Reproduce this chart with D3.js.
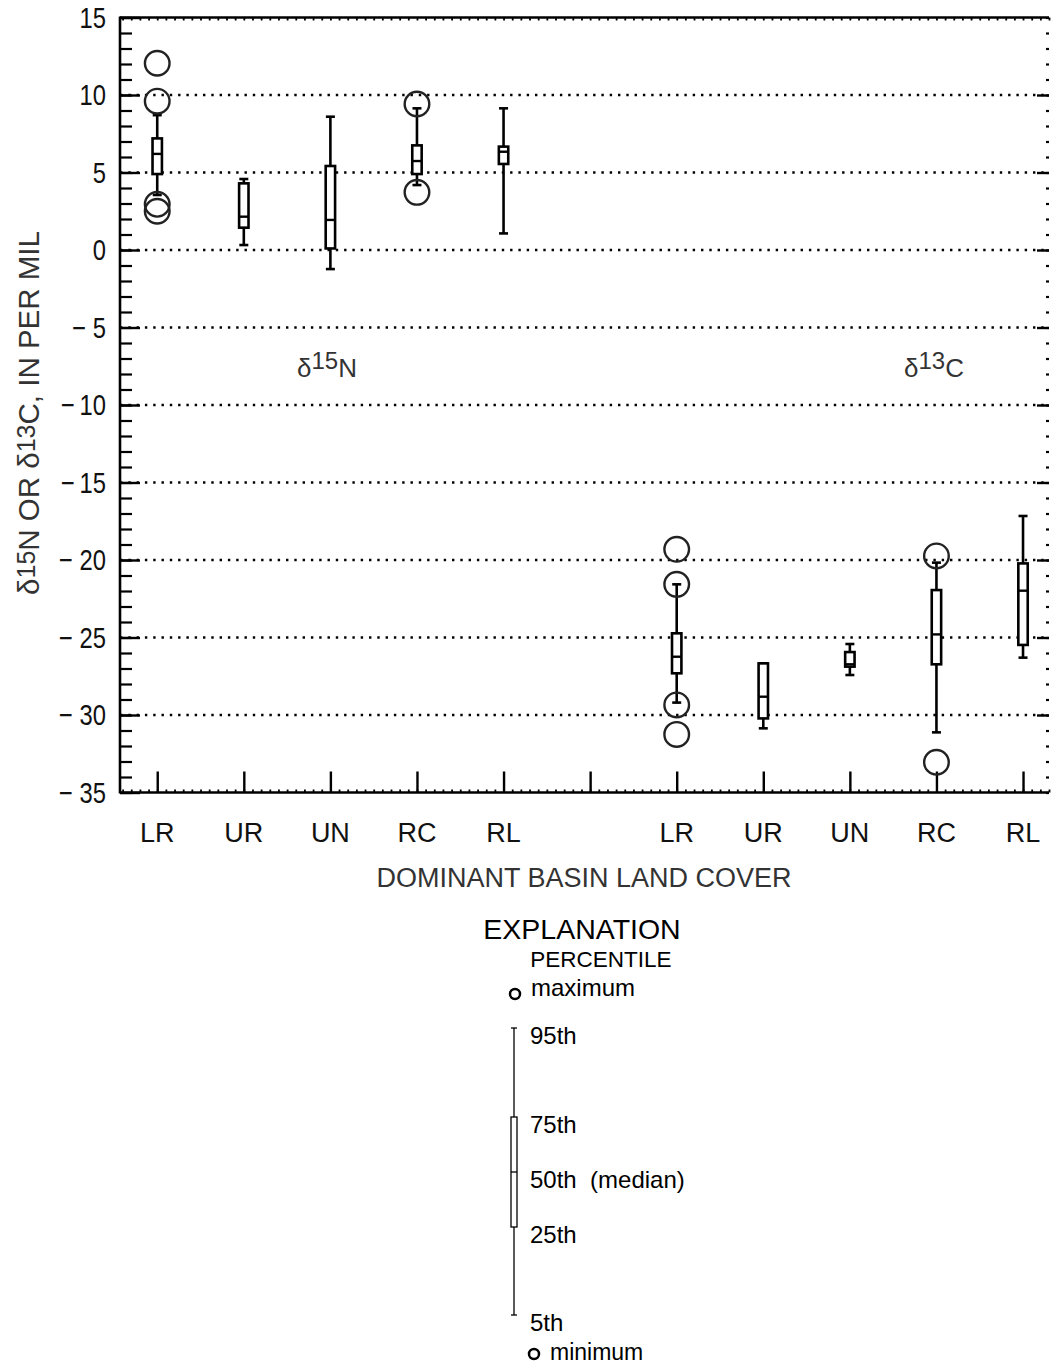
<!DOCTYPE html>
<html><head><meta charset="utf-8">
<script src="https://cdn.jsdelivr.net/npm/d3@7"></script>
<style>
body{margin:0;background:#fff;}
svg{display:block;font-family:"Liberation Sans",Arial,Helvetica,sans-serif;}
</style></head>
<body><svg id="c" width="1052" height="1365"></svg>
<script>
const categories = ["LR","UR","UN","RC","RL"];
const xTickLabels = ["LR","UR","UN","RC","RL","","LR","UR","UN","RC","RL"];
const yTickValues = [15,10,5,0,-5,-10,-15,-20,-25,-30,-35];
const yTickLabels = ["15","10","5","0","\u2212 5","\u2212\u200910","\u2212\u200915","\u2212 20","\u2212 25","\u2212 30","\u2212 35"];
const gridValues = [10,5,0,-5,-10,-15,-20,-25,-30];

// delta 15N (slots 0-4)
const n15P5  = [3.55, 0.32, -1.23, 4.19, 1.07];
const n15P25 = [4.9, 1.44, 0.1, 4.9, 5.55];
const n15P50 = [6.2, 2.15, 1.94, 5.74, 6.34];
const n15P75 = [7.2, 4.3, 5.42, 6.75, 6.67];
const n15P95 = [8.7, 4.58, 8.6, 9.14, 9.14];
const n15Outliers = [[12.05, 9.6, 2.95, 2.5], [], [], [9.42, 3.72], []];
// delta 13C (slots 6-10)
const c13P5  = [-29.2, -30.86, -27.42, -31.12, -26.3];
const c13P25 = [-27.31, -30.22, -26.88, -26.73, -25.48];
const c13P50 = [-26.24, -28.82, -26.73, -24.8, -21.98];
const c13P75 = [-24.73, -26.67, -25.94, -21.94, -20.22];
const c13P95 = [-21.57, -26.67, -25.42, -20.17, -17.16];
const c13Outliers = [[-19.31, -21.57, -29.35, -31.25], [], [], [-19.74, -33.05], []];

const n15Slots = [0,1,2,3,4];
const c13Slots = [6,7,8,9,10];

const svg = d3.select("#c");
const L = 120, R = 1049, T = 17.5, B = 792.5;
const x = d3.scaleLinear().domain([-0.43, 10.3]).range([L, R]);
const y = d3.scaleLinear().domain([-35, 15]).range([B, T]);

// gridlines
svg.append("g").selectAll("line").data(gridValues).join("line")
  .attr("x1", L).attr("x2", R).attr("y1", d=>y(d)).attr("y2", d=>y(d))
  .attr("stroke","#000").attr("stroke-width",2.4).attr("stroke-dasharray","2.4 5.9");

// axes
const minorY = d3.range(-35, 16, 1);
const minorX = d3.range(-0.4, 10.31, 0.1);
const gl = svg.append("g").attr("transform",`translate(${L},0)`)
  .call(d3.axisRight(y).tickValues(minorY).tickSize(12).tickFormat(""));
gl.select(".domain").remove();
gl.selectAll("line").attr("stroke","#000").attr("stroke-width",2.2);
const glM = svg.append("g").attr("transform",`translate(${L},0)`)
  .call(d3.axisRight(y).tickValues(yTickValues).tickSize(20).tickFormat(""));
glM.select(".domain").remove();
glM.selectAll("line").attr("stroke","#000").attr("stroke-width",2.4);
svg.append("line").attr("x1",L).attr("x2",L).attr("y1",T-1).attr("y2",B+1).attr("stroke","#000").attr("stroke-width",2.6);
// left labels (condensed)
svg.append("g").selectAll("text").data(yTickValues).join("text")
  .attr("text-anchor","end").attr("font-size",29).attr("fill","#111")
  .attr("transform", d=>`translate(106,${y(d)+10}) scale(0.82,1)`)
  .text((d,i)=>yTickLabels[i]);
// right axis ticks
const gr = svg.append("g").attr("transform",`translate(${R},0)`)
  .call(d3.axisLeft(y).tickValues(minorY).tickSize(3).tickFormat(""));
gr.select(".domain").remove();
gr.selectAll("line").attr("stroke","#000").attr("stroke-width",2.2);
const grM = svg.append("g").attr("transform",`translate(${R},0)`)
  .call(d3.axisLeft(y).tickValues(yTickValues.slice(1,-1)).tickSize(12).tickFormat(""));
grM.select(".domain").remove();
grM.selectAll("line").attr("stroke","#000").attr("stroke-width",2.4);
// top axis
const gt = svg.append("g").attr("transform",`translate(0,${T})`)
  .call(d3.axisBottom(x).tickValues(minorX).tickSize(3).tickFormat(""));
gt.select(".domain").remove();
gt.selectAll("line").attr("stroke","#000").attr("stroke-width",1.8);
svg.append("line").attr("x1",L).attr("x2",R).attr("y1",T).attr("y2",T).attr("stroke","#000").attr("stroke-width",2.6);
// bottom axis
const gb = svg.append("g").attr("transform",`translate(0,${B})`)
  .call(d3.axisTop(x).tickValues(minorX).tickSize(3).tickFormat(""));
gb.select(".domain").remove();
gb.selectAll("line").attr("stroke","#000").attr("stroke-width",1.8);
const gbM = svg.append("g").attr("transform",`translate(0,${B})`)
  .call(d3.axisTop(x).tickValues(d3.range(11)).tickSize(21).tickFormat(""));
gbM.select(".domain").remove();
gbM.selectAll("line").attr("stroke","#000").attr("stroke-width",2.4);
svg.append("line").attr("x1",L).attr("x2",R).attr("y1",B).attr("y2",B).attr("stroke","#000").attr("stroke-width",2.6);
// x labels
svg.append("g").selectAll("text").data(d3.range(11)).join("text")
  .attr("x", d=>x(d)).attr("y", 842).attr("text-anchor","middle")
  .attr("font-size",27).attr("fill","#111")
  .text(d=>xTickLabels[d]);

// axis titles
svg.append("text").attr("x",584).attr("y",887).attr("text-anchor","middle")
  .attr("font-size",27).attr("fill","#333")
  .text("DOMINANT BASIN LAND COVER");
const yt = svg.append("text").attr("transform","translate(39,413) rotate(-90)")
  .attr("text-anchor","middle").attr("font-size",29.5).attr("fill","#333");
yt.append("tspan").text("\u03B4");
yt.append("tspan").attr("dy",-4).attr("font-size",25).text("15");
yt.append("tspan").attr("dy",4).text("N OR \u03B4");
yt.append("tspan").attr("dy",-4).attr("font-size",25).text("13");
yt.append("tspan").attr("dy",4).text("C, IN PER MIL");

// group labels
function groupLabel(cx, sup, letter){
  const t = svg.append("text").attr("x",cx).attr("y",377).attr("text-anchor","middle")
    .attr("font-size",26).attr("fill","#333");
  t.append("tspan").text("\u03B4");
  t.append("tspan").attr("dy",-8).attr("font-size",24).text(sup);
  t.append("tspan").attr("dy",8).attr("font-size",26).text(letter);
}
groupLabel(327, "15", "N");
groupLabel(934, "13", "C");

// boxes
function drawBoxes(slots, p5, p25, p50, p75, p95, outl){
  const g = svg.append("g");
  slots.forEach((s,i)=>{
    const cx = x(s), hw = 4.7, cw = 4.5;
    g.append("line").attr("x1",cx).attr("x2",cx).attr("y1",y(p95[i])).attr("y2",y(p75[i]))
      .attr("stroke","#000").attr("stroke-width",2.6);
    g.append("line").attr("x1",cx).attr("x2",cx).attr("y1",y(p25[i])).attr("y2",y(p5[i]))
      .attr("stroke","#000").attr("stroke-width",2.6);
    g.append("line").attr("x1",cx-cw).attr("x2",cx+cw).attr("y1",y(p95[i])).attr("y2",y(p95[i]))
      .attr("stroke","#000").attr("stroke-width",2.6);
    g.append("line").attr("x1",cx-cw).attr("x2",cx+cw).attr("y1",y(p5[i])).attr("y2",y(p5[i]))
      .attr("stroke","#000").attr("stroke-width",2.6);
    g.append("rect").attr("x",cx-hw).attr("width",2*hw).attr("y",y(p75[i])).attr("height",y(p25[i])-y(p75[i]))
      .attr("fill","#fff").attr("stroke","#000").attr("stroke-width",2.6);
    g.append("line").attr("x1",cx-hw).attr("x2",cx+hw).attr("y1",y(p50[i])).attr("y2",y(p50[i]))
      .attr("stroke","#000").attr("stroke-width",2.4);
    outl[i].forEach(v=>{
      g.append("circle").attr("cx",cx).attr("cy",y(v)).attr("r",12.3)
        .attr("fill","none").attr("stroke","#222").attr("stroke-width",2.4);
    });
  });
}
drawBoxes(n15Slots, n15P5, n15P25, n15P50, n15P75, n15P95, n15Outliers);
drawBoxes(c13Slots, c13P5, c13P25, c13P50, c13P75, c13P95, c13Outliers);

// explanation
const legendPct = [95,75,50,25,5];
const legendY = [1028,1117,1172,1227,1315];
const legendLabels = ["95th","75th","50th  (median)","25th","5th"];
const lg = svg.append("g");
lg.append("text").attr("x",582).attr("y",939).attr("text-anchor","middle").attr("font-size",28.5).attr("fill","#000").text("EXPLANATION");
lg.append("text").attr("x",601).attr("y",967).attr("text-anchor","middle").attr("font-size",22.5).attr("fill","#000").text("PERCENTILE");
lg.append("circle").attr("cx",515).attr("cy",994).attr("r",5).attr("fill","none").attr("stroke","#000").attr("stroke-width",2.5);
lg.append("text").attr("x",531).attr("y",996).attr("font-size",24).text("maximum");
const lx = 514;
lg.append("line").attr("x1",lx).attr("x2",lx).attr("y1",legendY[0]).attr("y2",legendY[4]).attr("stroke","#000").attr("stroke-width",1.3);
lg.append("line").attr("x1",lx-3).attr("x2",lx+3).attr("y1",legendY[0]).attr("y2",legendY[0]).attr("stroke","#000").attr("stroke-width",1.3);
lg.append("line").attr("x1",lx-3).attr("x2",lx+3).attr("y1",legendY[4]).attr("y2",legendY[4]).attr("stroke","#000").attr("stroke-width",1.3);
lg.append("rect").attr("x",lx-3).attr("width",6).attr("y",legendY[1]).attr("height",legendY[3]-legendY[1])
  .attr("fill","#fff").attr("stroke","#000").attr("stroke-width",1.3);
lg.append("line").attr("x1",lx-3).attr("x2",lx+3).attr("y1",legendY[2]).attr("y2",legendY[2]).attr("stroke","#000").attr("stroke-width",1.3);
lg.selectAll("text.pct").data(legendPct).join("text").attr("class","pct")
  .attr("x",530).attr("y",(d,i)=>legendY[i]+16).attr("font-size",24)
  .style("white-space","pre").text((d,i)=>legendLabels[i]);
lg.append("circle").attr("cx",534).attr("cy",1354).attr("r",5).attr("fill","none").attr("stroke","#000").attr("stroke-width",2.5);
lg.append("text").attr("x",550).attr("y",1360).attr("font-size",23).text("minimum");
</script></body></html>
